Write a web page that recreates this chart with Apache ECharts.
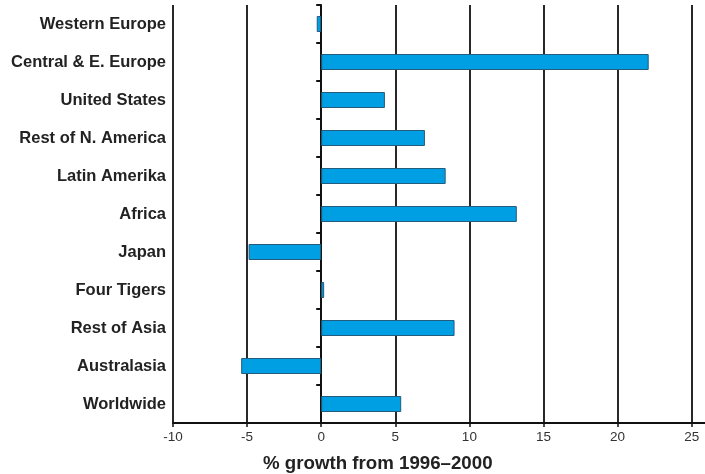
<!DOCTYPE html>
<html>
<head>
<meta charset="utf-8">
<script src="https://cdn.jsdelivr.net/npm/echarts@6/dist/echarts.min.js"></script>
<style>html,body{margin:0;padding:0;background:#fff}#c{width:705px;height:474px}</style>
</head>
<body>
<div id="c"></div>
<script>
const categories = ["Western Europe","Central & E. Europe","United States","Rest of N. America","Latin Amerika","Africa","Japan","Four Tigers","Rest of Asia","Australasia","Worldwide"];
const growth = [-0.3, 22.1, 4.3, 7.0, 8.4, 13.2, -4.9, 0.2, 9.0, -5.4, 5.4];
const xTicks = [-10, -5, 0, 5, 10, 15, 20, 25];
const axisTitle = "% growth from 1996–2000";

const chart = echarts.init(document.getElementById('c'), null, {renderer: 'canvas'});
chart.setOption({
  animation: false,
  backgroundColor: '#fff',
  title: {
    text: axisTitle, left: 263, top: 454, padding: 0,
    textStyle: {fontFamily: 'Liberation Sans', fontSize: 18.7, fontWeight: 'bold', color: '#222'}
  },
  grid: {left: 173, right: 0, top: 5, bottom: 51, containLabel: false},
  xAxis: {
    type: 'value', min: -10, max: 25.9, interval: 5,
    axisLine: {show: true, onZero: false, lineStyle: {color: '#111', width: 2}},
    axisTick: {show: true, length: 4, customValues: xTicks, lineStyle: {color: '#111', width: 1.5}},
    axisLabel: {
      fontFamily: 'Liberation Sans', fontSize: 13.5, color: '#333', margin: 7,
      customValues: xTicks
    },
    splitLine: {show: true, lineStyle: {color: '#111', width: 1.8}}
  },
  yAxis: [{
    type: 'category', data: categories, inverse: true,
    axisLine: {show: false, onZero: false},
    axisTick: {show: false},
    axisLabel: {fontFamily: 'Liberation Sans', fontSize: 16.5, fontWeight: 'bold', color: '#222', margin: 7}
  }, {
    type: 'category', data: categories, inverse: true, position: 'left',
    axisLine: {show: true, onZero: true, lineStyle: {color: '#111', width: 2}},
    axisTick: {show: true, length: 5, lineStyle: {color: '#111', width: 2}},
    axisLabel: {show: false}
  }],
  series: [{
    type: 'bar', data: growth, yAxisIndex: 0, barWidth: 16,
    itemStyle: {color: '#009fe3', borderColor: '#235c7c', borderWidth: 1}
  }]
});
</script>
</body>
</html>
